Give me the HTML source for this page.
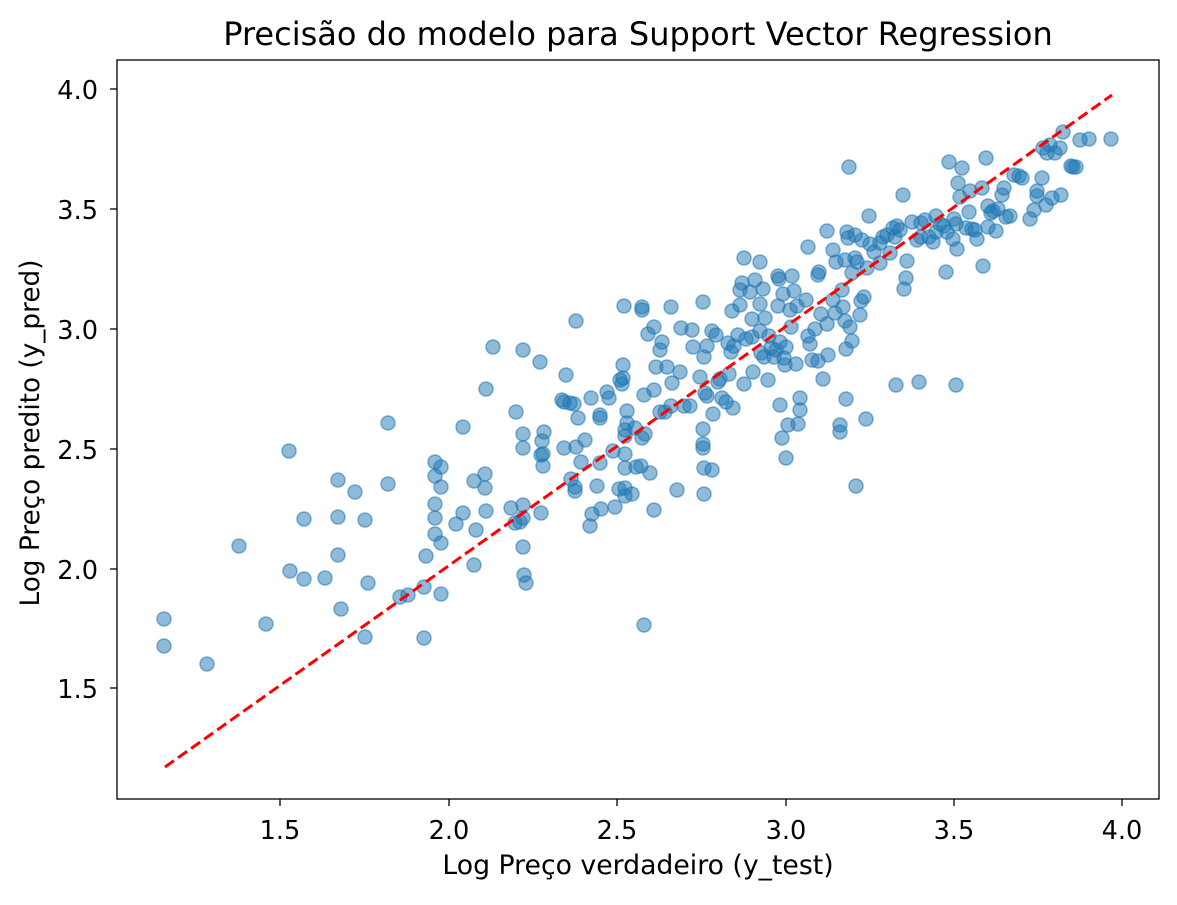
<!DOCTYPE html>
<html><head><meta charset="utf-8"><style>
body{margin:0;background:#fff}
svg text{font-family:"DejaVu Sans","Liberation Sans",sans-serif;fill:#000}
</style></head><body>
<svg id="s" width="1177" height="900" xmlns="http://www.w3.org/2000/svg">
<rect width="1177" height="900" fill="#fff"/>
<g id="pts" fill="rgba(31,119,180,0.5)" stroke="rgba(31,119,180,0.55)" stroke-width="1.5"></g>
<line x1="165" y1="767" x2="1112" y2="95" stroke="#ff0000" stroke-width="3" stroke-dasharray="11,5"/>
<rect x="117" y="60" width="1042" height="739" fill="none" stroke="#000" stroke-width="1.3"/>
<g stroke="#000" stroke-width="1.3">
<line x1="280" y1="799" x2="280" y2="806"/><line x1="449" y1="799" x2="449" y2="806"/><line x1="617" y1="799" x2="617" y2="806"/><line x1="786" y1="799" x2="786" y2="806"/><line x1="954" y1="799" x2="954" y2="806"/><line x1="1122" y1="799" x2="1122" y2="806"/>
<line x1="110" y1="89" x2="117" y2="89"/><line x1="110" y1="209" x2="117" y2="209"/><line x1="110" y1="329" x2="117" y2="329"/><line x1="110" y1="449" x2="117" y2="449"/><line x1="110" y1="569" x2="117" y2="569"/><line x1="110" y1="688" x2="117" y2="688"/>
</g>
<g font-size="25.6" text-anchor="middle">
<text x="280" y="839">1.5</text><text x="449" y="839">2.0</text><text x="617" y="839">2.5</text><text x="786" y="839">3.0</text><text x="954" y="839">3.5</text><text x="1122" y="839">4.0</text>
</g>
<g font-size="25.6" text-anchor="end">
<text x="98" y="99">4.0</text><text x="98" y="219">3.5</text><text x="98" y="339">3.0</text><text x="98" y="459">2.5</text><text x="98" y="579">2.0</text><text x="98" y="698">1.5</text>
</g>
<text x="638" y="874" font-size="26.7" text-anchor="middle">Log Preço verdadeiro (y_test)</text>
<text transform="translate(39,433) rotate(-90)" font-size="26.3" text-anchor="middle">Log Preço predito (y_pred)</text>
<text x="638" y="45" font-size="32" text-anchor="middle">Precisão do modelo para Support Vector Regression</text>
</svg>
<script>
var p=[[164,619],[164,646],[207,664],[239,546],[266,624],[289,451],[290,571],[304,519],[304,579],[325,578],[338,480],[338,517],[338,555],[341,609],[355,492],[365,520],[368,583],[365,637],[388,423],[388,484],[400,597],[408,595],[424,587],[424,638],[435,462],[435,476],[435,504],[435,518],[435,534],[441,467],[441,487],[441,543],[441,594],[426,556],[456,524],[463,427],[463,513],[474,565],[474,481],[476,530],[485,474],[485,488],[486,389],[486,511],[493,347],[511,508],[515,523],[516,412],[520,522],[523,350],[523,434],[523,448],[523,505],[523,518],[523,547],[524,575],[526,583],[540,362],[541,513],[541,455],[542,441],[543,454],[543,466],[544,432],[562,400],[566,375],[564,448],[564,402],[570,403],[571,479],[574,404],[576,321],[575,487],[575,491],[576,447],[578,418],[581,462],[585,440],[590,526],[591,398],[592,514],[597,486],[600,415],[600,418],[601,509],[600,463],[607,392],[609,398],[613,451],[615,507],[619,489],[623,365],[622,384],[625,488],[625,496],[625,468],[625,454],[625,436],[625,430],[620,380],[623,378],[624,306],[627,411],[627,423],[632,494],[635,428],[636,467],[641,466],[642,438],[642,307],[642,310],[644,625],[644,395],[645,434],[648,334],[650,473],[654,510],[654,327],[654,390],[656,367],[660,412],[660,350],[662,342],[665,412],[667,367],[671,406],[671,307],[672,383],[677,490],[680,372],[681,328],[684,406],[690,406],[692,330],[693,347],[700,377],[703,302],[703,429],[703,448],[703,444],[704,468],[704,494],[705,393],[704,357],[707,346],[707,396],[712,470],[712,331],[713,414],[716,335],[718,382],[720,379],[722,398],[726,402],[728,343],[729,374],[731,352],[732,311],[733,408],[734,346],[738,335],[740,290],[740,305],[742,283],[744,384],[744,258],[746,339],[750,292],[752,319],[752,337],[753,372],[755,280],[760,262],[760,304],[760,331],[761,353],[763,289],[764,357],[765,318],[768,380],[769,336],[771,348],[774,357],[776,350],[778,276],[778,306],[779,279],[780,342],[780,405],[782,438],[783,294],[784,358],[785,365],[786,347],[786,458],[788,425],[790,310],[791,327],[792,276],[794,291],[796,364],[797,306],[798,424],[800,398],[800,410],[806,300],[808,336],[808,247],[810,344],[812,360],[815,329],[818,275],[818,361],[819,272],[821,314],[823,379],[827,324],[827,231],[828,355],[833,250],[833,300],[835,313],[836,262],[840,432],[840,425],[842,290],[843,307],[845,260],[845,321],[846,349],[846,399],[847,232],[848,238],[849,167],[850,327],[852,341],[852,273],[855,235],[855,258],[856,486],[857,262],[860,315],[861,301],[862,240],[864,297],[866,419],[867,268],[869,216],[870,244],[874,252],[880,263],[880,243],[883,237],[887,235],[890,253],[893,228],[895,237],[896,385],[897,226],[900,230],[903,195],[904,289],[906,278],[907,261],[912,222],[917,240],[919,382],[921,223],[921,237],[925,220],[929,237],[933,242],[936,232],[936,216],[940,224],[944,226],[946,272],[947,232],[949,162],[953,239],[954,219],[956,224],[956,385],[957,249],[958,183],[960,197],[962,168],[966,228],[969,212],[970,191],[972,229],[975,230],[977,239],[982,188],[983,266],[986,158],[988,227],[988,206],[991,213],[993,211],[996,231],[998,209],[1002,195],[1004,188],[1006,217],[1010,216],[1014,175],[1019,176],[1022,178],[1030,219],[1034,210],[1037,191],[1037,196],[1042,178],[1043,148],[1046,205],[1047,153],[1050,145],[1052,198],[1055,153],[1060,148],[1061,195],[1063,132],[1071,166],[1073,167],[1076,167],[1080,140],[1089,139],[1111,139]];
var g=document.getElementById('pts'),h='';
p.forEach(function(q){h+='<circle cx="'+q[0]+'" cy="'+q[1]+'" r="7"/>';});
g.innerHTML=h;
</script>
</body></html>
